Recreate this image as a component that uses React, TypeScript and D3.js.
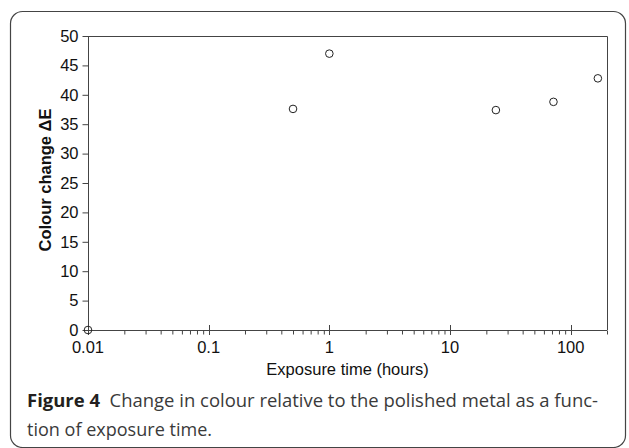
import { useEffect, useRef } from "react";
import * as d3 from "d3";

const exposureHours = [0.01, 0.5, 1, 24, 72, 168];
const colourChange = [0, 37.6, 47.0, 37.4, 38.8, 42.8];

const xMajorTicks = [0.01, 0.1, 1, 10, 100];
const xTickLabels = ["0.01", "0.1", "1", "10", "100"];
const yTicks = [0, 5, 10, 15, 20, 25, 30, 35, 40, 45, 50];

const xTitle = "Exposure time (hours)";
const yTitle = "Colour change \u0394E";
const captionBold = "Figure 4";
const captionLine1 = "Change in colour relative to the polished metal as a func-";
const captionLine2 = "tion of exposure time.";

export default function App() {
  const ref = useRef<SVGSVGElement | null>(null);

  useEffect(() => {
    const node = ref.current;
    if (!node) return;
    const svg = d3.select(node);
    svg.selectAll("*").remove();

    const width = 629;
    const height = 448;
    const left = 88;
    const right = 607;
    const top = 36;
    const bottom = 330;
    const axisColor = "#444";
    const chartFont = "'Liberation Sans', Arial, sans-serif";
    const fontSize = 16.5;

    const x = d3.scaleLog().domain([0.01, 200]).range([left, right]);
    const y = d3.scaleLinear().domain([0, 50]).range([bottom, top]);

    svg.attr("width", width).attr("height", height).attr("viewBox", `0 0 ${width} ${height}`);

    // figure frame
    svg
      .append("rect")
      .attr("x", 10.5)
      .attr("y", 11.5)
      .attr("width", 615)
      .attr("height", 436)
      .attr("rx", 12)
      .attr("fill", "none")
      .attr("stroke", "#444")
      .attr("stroke-width", 1.2);

    // plot box (top and right)
    svg
      .append("path")
      .attr("d", `M${left},${top + 0.5}H${right + 0.5}V${bottom}`)
      .attr("fill", "none")
      .attr("stroke", axisColor);

    // minor x ticks
    const minor: number[] = [];
    for (let p = -2; p <= 2; p++) {
      for (let m = 2; m <= 9; m++) {
        const v = m * Math.pow(10, p);
        if (v <= 200) minor.push(v);
      }
    }

    const xAxis = d3
      .axisBottom(x)
      .tickValues(minor)
      .tickSize(4)
      .tickFormat(() => "");

    svg
      .append("g")
      .attr("transform", `translate(0,${bottom + 0.5})`)
      .call(xAxis)
      .call((g) => {
        g.select(".domain").attr("stroke", axisColor).attr("d", `M${left},0H${right}`);
        g.selectAll("line").attr("stroke", axisColor);
      });

    // major x ticks, crossing the axis
    svg
      .append("g")
      .selectAll("line")
      .data(xMajorTicks)
      .join("line")
      .attr("x1", (d) => Math.round(x(d)) + 0.5)
      .attr("x2", (d) => Math.round(x(d)) + 0.5)
      .attr("y1", bottom - 5)
      .attr("y2", bottom + 5)
      .attr("stroke", axisColor);

    svg
      .append("g")
      .selectAll("text")
      .data(xMajorTicks)
      .join("text")
      .attr("x", (d) => x(d))
      .attr("y", 353)
      .attr("text-anchor", "middle")
      .attr("font-family", chartFont)
      .attr("font-size", fontSize)
      .attr("fill", "#111")
      .text((_d, i) => xTickLabels[i]);

    const yAxis = d3
      .axisLeft(y)
      .tickValues(yTicks)
      .tickSize(6)
      .tickPadding(4)
      .tickFormat((d) => String(d));

    svg
      .append("g")
      .attr("transform", `translate(${left + 0.5},0)`)
      .call(yAxis)
      .call((g) => {
        g.select(".domain").attr("stroke", axisColor).attr("d", `M0,${top}V${bottom}`);
        g.selectAll("line").attr("stroke", axisColor);
        g.selectAll("text").attr("font-family", chartFont).attr("font-size", fontSize).attr("fill", "#111");
      });

    // axis titles
    svg
      .append("text")
      .attr("x", (left + right) / 2)
      .attr("y", 375)
      .attr("text-anchor", "middle")
      .attr("font-family", chartFont)
      .attr("font-size", fontSize)
      .attr("fill", "#111")
      .text(xTitle);

    svg
      .append("text")
      .attr("transform", `translate(51,180) rotate(-90)`)
      .attr("text-anchor", "middle")
      .attr("font-family", chartFont)
      .attr("font-size", fontSize)
      .attr("font-weight", "bold")
      .attr("fill", "#111")
      .text(yTitle);

    // data points
    svg
      .append("g")
      .selectAll("circle")
      .data(exposureHours)
      .join("circle")
      .attr("cx", (d) => x(d))
      .attr("cy", (_d, i) => y(colourChange[i]))
      .attr("r", 3.8)
      .attr("fill", "none")
      .attr("stroke", "#222")
      .attr("stroke-width", 1);

    // caption
    const captionFont = "'Open Sans', 'Noto Sans', sans-serif";
    const line1 = svg
      .append("text")
      .attr("x", 27)
      .attr("y", 407)
      .attr("font-family", captionFont)
      .attr("font-size", 17.5)
      .attr("fill", "#3a3a3a")
      .attr("textLength", 571)
      .attr("lengthAdjust", "spacingAndGlyphs");
    line1.append("tspan").attr("font-weight", "bold").attr("fill", "#231f20").text(captionBold);
    line1.append("tspan").text("\u00a0\u00a0" + captionLine1);

    svg
      .append("text")
      .attr("x", 27)
      .attr("y", 436)
      .attr("font-family", captionFont)
      .attr("font-size", 17.5)
      .attr("fill", "#3a3a3a")
      .attr("textLength", 185)
      .attr("lengthAdjust", "spacingAndGlyphs")
      .text(captionLine2);
  }, []);

  return (
    <svg
      ref={ref}
      style={{ position: "absolute", left: 0, top: 0, background: "#fff" }}
    />
  );
}
